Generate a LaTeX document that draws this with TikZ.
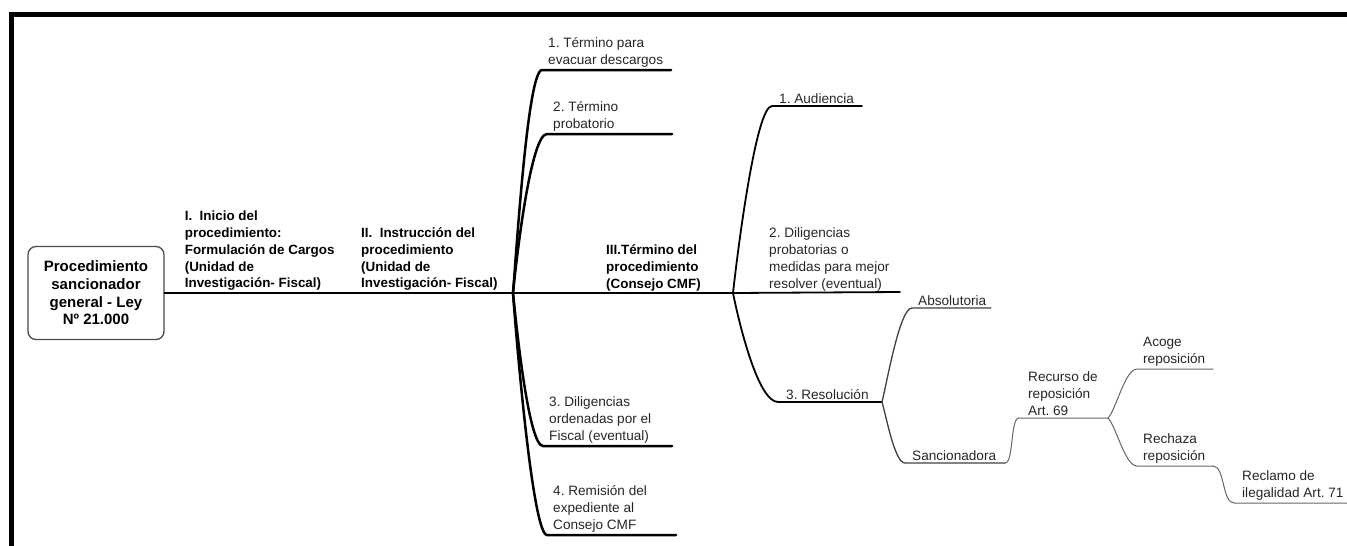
\documentclass[tikz,border=0pt]{standalone}
\usepackage{fontspec}
\setmainfont{Liberation Sans}
\usetikzlibrary{positioning}

\begin{document}
\frenchspacing
\begin{tikzpicture}[x=1pt, y=-1pt, line cap=round,
	root node/.style={draw=black!70, line width=1.3pt, rounded corners=8pt, minimum width=136pt,
		minimum height=93pt, align=center, inner sep=2pt, font=\fontsize{15}{17.7}\selectfont\bfseries},
	head/.style={anchor=south west, inner sep=0pt, align=left, font=\fontsize{13.4}{16.8}\selectfont\bfseries},
	leaf/.style={inner sep=0pt, align=left, text=black!85, font=\fontsize{13.6}{17}\selectfont},
	lvl1/.style={line width=2.8pt},
	lvl2/.style={line width=2.5pt},
	lvl3/.style={line width=1.8pt},
	lvl4/.style={line width=1.3pt, black!75},
	lvl5/.style={line width=1pt, black!60}]

	\useasboundingbox (0,0) rectangle (1347,546);
	\draw[line width=5pt, line cap=butt] (11.75,546) -- (11.75,14.5) -- (1347,14.5);

	% hubs and line ends
	\coordinate (h1) at (513,293);
	\coordinate (h2) at (733,293);
	\coordinate (a1) at (542,70);   \coordinate (b1) at (671,70);
	\coordinate (a2) at (547,134);  \coordinate (b2) at (672,134);
	\coordinate (a3) at (543,446);  \coordinate (b3) at (672,446);
	\coordinate (a4) at (547,535);  \coordinate (b4) at (676,535);
	\coordinate (a5) at (772,106);  \coordinate (b5) at (862,106);
	\coordinate (b6) at (900,292);
	\coordinate (a7) at (778,402);  \coordinate (h3) at (882,402);
	\coordinate (a8) at (912,308);  \coordinate (b8) at (991,308);
	\coordinate (a9) at (905,463);  \coordinate (h4) at (1005,463);
	\coordinate (a10) at (1019,418); \coordinate (h5) at (1108,418);
	\coordinate (a11) at (1137,369); \coordinate (b11) at (1213,369);
	\coordinate (a12) at (1137,466); \coordinate (h6) at (1213,466);
	\coordinate (a13) at (1234,503); \coordinate (b13) at (1347,503);

	\node[root node] (root) at (96,293) {Procedimiento\\sancionador\\general - Ley\\Nº 21.000};

	\node[head] (inicio) [above right=2pt and 20pt of root.east] {I.~~Inicio del\\procedimiento:\\Formulación de Cargos\\(Unidad de\\Investigación- Fiscal)};
	\node[head] (instruccion) at (361,291) {II.~~Instrucción del\\procedimiento\\(Unidad de\\Investigación- Fiscal)};
	\node[head] (termino) at (606,291) {III.Término del\\procedimiento\\(Consejo CMF)};

	\node[leaf] (descargos) [above right=2pt and 6pt of a1] {1. Término para\\evacuar descargos};
	\node[leaf] (probatorio) [above right=2pt and 6pt of a2] {2. Término\\probatorio};
	\node[leaf] (ordenadas) [above right=2pt and 6pt of a3] {3. Diligencias\\ordenadas por el\\Fiscal (eventual)};
	\node[leaf] (remision) [above right=2pt and 6pt of a4] {4. Remisión del\\expediente al\\Consejo CMF};
	\node[leaf] (audiencia) [above right=2pt and 7pt of a5] {1. Audiencia};
	\node[leaf] (medidas) [above right=1pt and 36pt of h2] {2. Diligencias\\probatorias o\\medidas para mejor\\resolver (eventual)};
	\node[leaf] (resolucion) [above right=2pt and 8pt of a7] {3. Resolución};
	\node[leaf] (absolutoria) [above right=2pt and 6pt of a8] {Absolutoria};
	\node[leaf] (sancionadora) [above right=2pt and 7pt of a9] {Sancionadora};
	\node[leaf] (recurso) [above right=2pt and 9pt of a10] {Recurso de\\reposición\\Art. 69};
	\node[leaf] (acoge) [above right=2pt and 6pt of a11] {Acoge\\reposición};
	\node[leaf] (rechaza) [above right=2pt and 6pt of a12] {Rechaza\\reposición};
	\node[leaf] (reclamo) [above right=2pt and 8pt of a13] {Reclamo de\\ilegalidad Art. 71};

	\draw[lvl1] (root.east) -- (h1) -- (h2);
	\draw[lvl2] (h1) .. controls +(4,-50) and +(-14,0) .. (a1) -- (b1);
	\draw[lvl2] (h1) .. controls +(4,-40) and +(-16,0) .. (a2) -- (b2);
	\draw[lvl2] (h1) .. controls +(4,40) and +(-14,0) .. (a3) -- (b3);
	\draw[lvl2] (h1) .. controls +(4,55) and +(-14,0) .. (a4) -- (b4);
	\draw[lvl3] (h2) .. controls +(5,-45) and +(-16,0) .. (a5) -- (b5);
	\draw[lvl3] (h2) -- (b6);
	\draw[lvl3] (h2) .. controls +(6,30) and +(-20,0) .. (a7) -- (h3);
	\draw[lvl4] (h3) .. controls +(6,-25) and +(-12,0) .. (a8) -- (b8);
	\draw[lvl4] (h3) .. controls +(5,18) and +(-10,0) .. (a9) -- (h4);
	\draw[lvl5] (h4) .. controls +(9,0) and +(-9,0) .. (a10) -- (h5);
	\draw[lvl5] (h5) .. controls +(8,-8) and +(-12,0) .. (a11) -- (b11);
	\draw[lvl5] (h5) .. controls +(8,8) and +(-12,0) .. (a12) -- (h6);
	\draw[lvl5] (h6) .. controls +(12,0) and +(-12,0) .. (a13) -- (b13);
\end{tikzpicture}
\end{document}
